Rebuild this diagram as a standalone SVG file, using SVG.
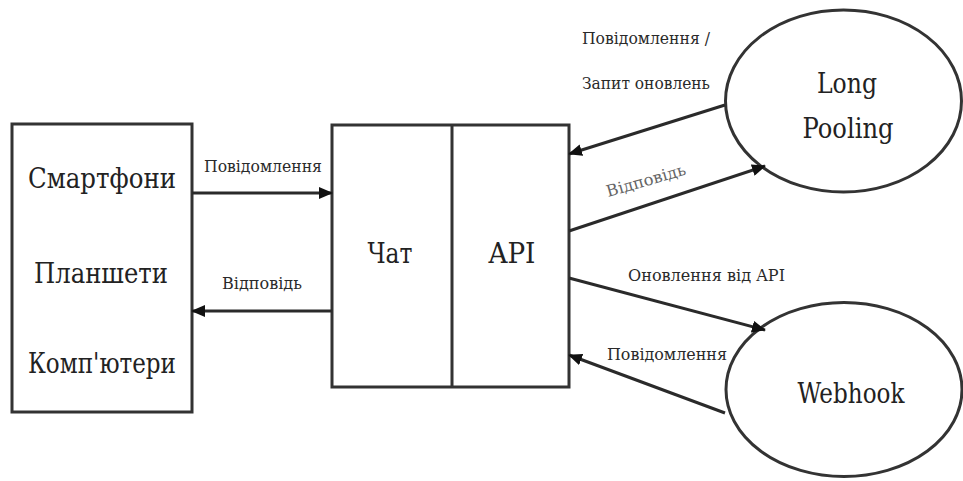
<svg xmlns="http://www.w3.org/2000/svg" width="963" height="481" viewBox="0 0 963 481">
  <style>
    .box { fill: #fff; stroke: #333; stroke-width: 3; }
    .edge { fill: none; stroke: #2a2a2a; stroke-width: 3; }
    .big { font-family: 'DejaVu Serif', 'Liberation Serif', serif; font-size: 27px; fill: #222; text-anchor: middle; }
    .small { font-family: 'DejaVu Serif', 'Liberation Serif', serif; font-size: 16px; fill: #2a2a2a; }
  </style>
  <defs>
    <marker id="arrow" viewBox="0 0 14 12" refX="13" refY="6" markerWidth="14" markerHeight="12" markerUnits="userSpaceOnUse" orient="auto">
      <path d="M0,0 L14,6 L0,12 Z" fill="#111"/>
    </marker>
  </defs>
  <rect width="963" height="481" fill="#fff"/>

  <g id="devices">
    <rect class="box" x="12" y="124" width="180" height="288"/>
    <text class="big" x="102" y="188" textLength="148" lengthAdjust="spacingAndGlyphs">Смартфони</text>
    <text class="big" x="101" y="283" textLength="134" lengthAdjust="spacingAndGlyphs">Планшети</text>
    <text class="big" x="102" y="373" textLength="148" lengthAdjust="spacingAndGlyphs">Комп'ютери</text>
  </g>

  <g id="chat-api">
    <rect class="box" x="332" y="125" width="237" height="262"/>
    <line class="box" x1="452" y1="125" x2="452" y2="387"/>
    <text class="big" x="390" y="263" textLength="45" lengthAdjust="spacingAndGlyphs">Чат</text>
    <text class="big" x="512" y="263" textLength="47" lengthAdjust="spacingAndGlyphs">API</text>
  </g>

  <g id="long-pooling">
    <ellipse class="box" cx="843.5" cy="101" rx="118" ry="91"/>
    <text class="big" x="847" y="93" textLength="60" lengthAdjust="spacingAndGlyphs">Long</text>
    <text class="big" x="848" y="138" textLength="91" lengthAdjust="spacingAndGlyphs">Pooling</text>
  </g>

  <g id="webhook">
    <ellipse class="box" cx="844" cy="389.5" rx="118" ry="87"/>
    <text class="big" x="851" y="403" textLength="107" lengthAdjust="spacingAndGlyphs">Webhook</text>
  </g>

  <g id="connectors">
    <line class="edge" x1="192" y1="193" x2="332" y2="193" marker-end="url(#arrow)"/>
    <line class="edge" x1="332" y1="311" x2="192" y2="311" marker-end="url(#arrow)"/>
    <line class="edge" x1="725" y1="105" x2="569" y2="154" marker-end="url(#arrow)"/>
    <line class="edge" x1="569" y1="231" x2="765" y2="166" marker-end="url(#arrow)"/>
    <line class="edge" x1="569" y1="278" x2="765" y2="330" marker-end="url(#arrow)"/>
    <line class="edge" x1="725" y1="413" x2="569" y2="355" marker-end="url(#arrow)"/>

    <text class="small" x="204" y="172" textLength="118" lengthAdjust="spacingAndGlyphs">Повідомлення</text>
    <text class="small" x="222" y="289" textLength="80" lengthAdjust="spacingAndGlyphs">Відповідь</text>
    <text class="small" x="582" y="44" textLength="128" lengthAdjust="spacingAndGlyphs">Повідомлення /</text>
    <text class="small" x="582" y="89" textLength="128" lengthAdjust="spacingAndGlyphs">Запит оновлень</text>
    <text class="small" x="0" y="0" textLength="82" lengthAdjust="spacingAndGlyphs" transform="translate(608,197) rotate(-16)" style="fill:#666">Відповідь</text>
    <text class="small" x="628" y="281" textLength="157" lengthAdjust="spacingAndGlyphs">Оновлення від API</text>
    <text class="small" x="607" y="360" textLength="120" lengthAdjust="spacingAndGlyphs">Повідомлення</text>
  </g>
</svg>
